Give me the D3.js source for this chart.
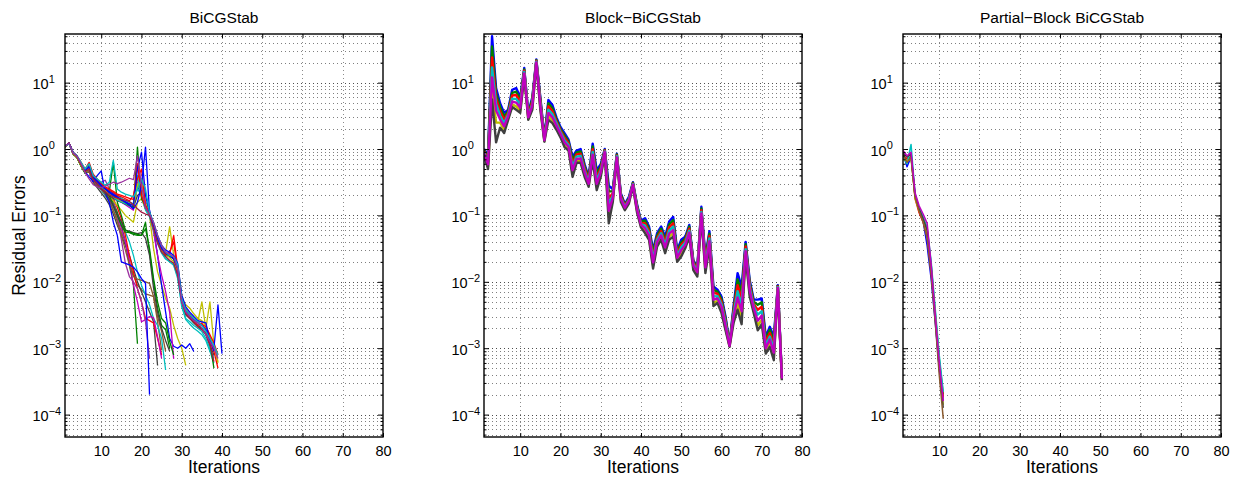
<!DOCTYPE html>
<html><head><meta charset="utf-8">
<script src="https://cdn.jsdelivr.net/npm/d3@7"></script>
<style>
body{margin:0;background:#fff;}
svg{display:block;font-family:"Liberation Sans",Arial,Helvetica,sans-serif;}
</style></head><body>
<svg id="c" width="1234" height="477"></svg>
<script>
// ---------------- tick labels / categories ----------------
const ITER_TICKS = [10,20,30,40,50,60,70,80];
const DECADES = [1e-4,1e-3,1e-2,1e-1,1,10];
const TITLES = ["BiCGStab","Block\u2212BiCGStab","Partial\u2212Block BiCGStab"];
const X_LABEL = "Iterations";
const Y_LABEL = "Residual Errors";

// ---------------- BiCGStab (one residual history per right-hand side) ----------------
const bicg01 = [1.1,1.23,0.87,0.76,0.575,0.457,0.38,0.324,0.398,0.468,0.214,0.158,0.079,0.05,0.02,0.019,0.018,0.0166,0.0141,0.0112,0.0095,0.0002];
const bicg02 = [1.1,1.2,0.89,0.79,0.63,0.5,0.6,0.4,0.355,0.316,0.282,0.316,0.676,0.25,0.224,0.209,0.2,0.19,0.25,0.355,0.25,0.112,0.079,0.05,0.035,0.028,0.025,0.024,0.018,0.0056,0.0038,0.0032,0.0028,0.0025,0.0022,0.0018,0.0014,0.0011,0.0008];
const bicg03 = [1.07,1.23,0.85,0.74,0.55,0.43,0.56,0.355,0.316,0.28,0.25,0.224,0.63,0.158,0.1,0.06,0.056,0.054,0.052,0.05,0.063,0.0316,0.0112,0.005,0.0028,0.0024,0.00126,0.00079];
const bicg04 = [1.1,1.23,0.87,0.78,0.6,0.44,0.355,0.29,0.27,0.263,0.275,0.295,0.316,0.302,0.316,0.339,0.363,0.347,0.79,0.28,0.132,0.105,0.079,0.05,0.0355,0.028,0.026,0.024,0.0158,0.005,0.0035,0.003,0.0026,0.0024,0.002,0.0016,0.00126,0.001,0.0007];
const bicg05 = [1.1,1.2,0.89,0.79,0.63,0.5,0.63,0.417,0.355,0.302,0.263,0.24,0.219,0.2,0.191,0.178,0.166,0.2,0.355,0.5,0.141,0.107,0.071,0.045,0.0316,0.026,0.028,0.04,0.0141,0.0052,0.0035,0.0032,0.0025,0.0022,0.0024,0.0018,0.00126,0.00089,0.0005];
const bicg06 = [1.07,1.23,0.85,0.74,0.56,0.447,0.525,0.38,0.316,0.282,0.24,0.209,0.191,0.178,0.166,0.158,0.151,0.141,0.282,0.316,0.158,0.112,0.071,0.045,0.0316,0.028,0.068,0.025,0.0178,0.0063,0.004,0.0033,0.0028,0.0025,0.005,0.002,0.005,0.00112,0.00063];
const bicg07 = [1.1,1.23,0.87,0.76,0.59,0.468,0.5,0.355,0.302,0.251,0.224,0.2,0.182,0.166,0.158,0.148,0.141,0.132,0.2,0.224,0.126,0.1,0.063,0.04,0.03,0.025,0.024,0.0224,0.0126,0.005,0.00316,0.0028,0.0024,0.0021,0.0019,0.0016,0.00112,0.00079];
const bicg08 = [1.1,1.2,0.89,0.78,0.6,0.48,0.537,0.38,0.331,0.282,0.251,0.229,0.209,0.191,0.174,0.158,0.145,0.126,0.158,0.282,1.07,0.112,0.076,0.05,0.0355,0.03,0.028,0.025,0.019,0.0063,0.0042,0.0035,0.003,0.0026,0.0025,0.0024,0.00126,0.001,0.0045,0.00083];
const bicg09 = [1.07,1.23,0.85,0.76,0.575,0.457,0.6,0.363,0.316,0.275,0.251,0.219,0.2,0.186,0.17,0.158,0.141,0.132,1.07,0.178,0.141,0.112,0.071,0.042,0.0316,0.026,0.025,0.0224,0.0158,0.0056,0.0035,0.003,0.0025,0.0022,0.002,0.00166,0.0012,0.0005];
const bicg10 = [1.1,1.23,0.87,0.78,0.59,0.468,0.55,0.37,0.324,0.288,0.251,0.24,0.219,0.2,0.182,0.166,0.158,0.151,0.251,0.2,0.126,0.1,0.063,0.04,0.028,0.0224,0.02,0.0178,0.0112,0.0045,0.0028,0.0025,0.0022,0.002,0.00178,0.0014,0.001,0.0007];
const bicg11 = [1.1,1.23,0.87,0.76,0.575,0.457,0.5,0.355,0.302,0.251,0.229,0.204,0.191,0.182,0.174,0.17,0.162,0.145,0.126,0.112,0.105,0.1,0.063,0.038,0.028,0.024,0.021,0.019,0.0126,0.005,0.0033,0.0028,0.0025,0.0021,0.0019,0.0016,0.00112,0.00063];
const bicg12 = [1.1,1.23,0.87,0.76,0.575,0.457,0.479,0.331,0.282,0.24,0.2,0.162,0.12,0.089,0.056,0.04,0.02,0.0126,0.0089,0.0076,0.0066,0.0063,0.006,0.0025,0.00093];
const bicg13 = [1.1,1.23,0.87,0.76,0.575,0.447,0.447,0.355,0.316,0.316,0.339,0.251,0.17,0.095,0.043,0.019,0.012,0.01,0.0079,0.005,0.0025,0.0007];
const bicg14 = [1.07,1.23,0.85,0.74,0.55,0.437,0.5,0.347,0.302,0.263,0.229,0.2,0.158,0.112,0.071,0.04,0.0178,0.0089,0.00117];
const bicg15 = [1.1,1.2,0.89,0.78,0.6,0.48,0.525,0.38,0.316,0.269,0.234,0.209,0.178,0.132,0.089,0.05,0.025,0.0141,0.0079,0.005,0.0028,0.0026,0.0024,0.0014,0.00079];
const bicg16 = [1.07,1.23,0.85,0.76,0.56,0.447,0.5,0.355,0.302,0.251,0.219,0.191,0.166,0.141,0.12,0.1,0.089,0.079,0.158,0.178,0.126,0.1,0.0316,0.0141,0.0089,0.0056,0.004,0.0022,0.0014,0.001,0.00055];
const bicg17 = [1.1,1.23,0.87,0.76,0.59,0.468,0.525,0.355,0.302,0.263,0.24,0.219,0.2,0.182,0.166,0.151,0.141,0.126,0.282,0.2,0.158,0.12,0.063,0.025,0.0089,0.0035,0.0014,0.00107,0.001,0.00112,0.001,0.00117,0.00089];
const bicg18 = [1.1,1.23,0.87,0.78,0.59,0.468,0.5,0.347,0.288,0.24,0.2,0.166,0.132,0.1,0.076,0.056,0.04,0.025,0.0141,0.0089,0.0063,0.0045,0.0028,0.0022,0.0014,0.00047];
const bicg19 = [1.07,1.23,0.85,0.74,0.56,0.437,0.457,0.316,0.263,0.219,0.182,0.145,0.105,0.071,0.05,0.0355,0.025,0.0158,0.01,0.0071,0.005,0.0035,0.0025,0.00055];
const bicg20 = [1.1,1.2,0.89,0.78,0.6,0.468,0.5,0.347,0.295,0.263,0.234,0.209,0.191,0.174,0.158,0.145,0.132,0.12,0.316,0.224,0.141,0.105,0.056,0.025,0.0126,0.0071,0.0035,0.00069];
const bicg21 = [1.1,1.23,0.87,0.76,0.575,0.457,0.525,0.363,0.316,0.275,0.24,0.2,0.141,0.1,0.071,0.056,0.055,0.052,0.05,0.05,0.079,0.028,0.01,0.004,0.0022,0.0019,0.001];
const bicg22 = [1.1,1.2,0.89,0.78,0.6,0.48,0.5,0.36,0.3,0.26,0.22,0.18,0.14,0.105,0.08,0.06,0.058,0.055,0.053,0.055,0.045,0.025,0.008,0.0035,0.002,0.0013,0.0009];
const bicg23 = [1.07,1.23,0.85,0.74,0.56,0.44,0.45,0.33,0.28,0.25,0.21,0.17,0.12,0.08,0.05,0.03,0.018,0.012,0.011,0.0105,0.01,0.0095,0.006,0.003,0.0018,0.0009];
const bicg24 = [1.1,1.23,0.87,0.78,0.6,0.47,0.58,0.4,0.34,0.3,0.27,0.25,0.23,0.21,0.2,0.19,0.18,0.175,0.6,0.2,0.13,0.105,0.075,0.048,0.033,0.027,0.026,0.05,0.016,0.006,0.0038,0.0032,0.0027,0.0025,0.0023,0.0021,0.0016,0.0012,0.0008];
const bicg25 = [1.07,1.2,0.87,0.76,0.58,0.46,0.52,0.37,0.32,0.28,0.25,0.22,0.2,0.18,0.17,0.16,0.15,0.14,0.3,0.22,0.13,0.1,0.065,0.042,0.03,0.026,0.023,0.02,0.014,0.0055,0.0045,0.004,0.0033,0.0028,0.0026,0.0022,0.0015,0.0011,0.0006];
const bicg26 = [1.1,1.23,0.87,0.77,0.59,0.46,0.53,0.36,0.31,0.27,0.24,0.21,0.19,0.17,0.16,0.15,0.14,0.13,0.4,0.19,0.12,0.095,0.06,0.038,0.027,0.022,0.02,0.018,0.012,0.0042,0.0027,0.0023,0.002,0.0018,0.0016,0.0013,0.0009,0.0006];
const bicg27 = [1.1,1.23,0.88,0.77,0.6,0.47,0.54,0.37,0.32,0.28,0.25,0.22,0.2,0.185,0.17,0.16,0.15,0.14,0.5,0.9,0.2,0.11,0.07,0.045,0.032,0.027,0.025,0.022,0.016,0.0055,0.0037,0.0031,0.0027,0.0024,0.0022,0.0019,0.0014,0.0009];
const bicg28 = [1.1,1.2,0.89,0.78,0.6,0.47,0.5,0.35,0.3,0.25,0.21,0.18,0.14,0.1,0.065,0.04,0.02,0.009,0.005,0.0025,0.0027,0.003,0.0029,0.0015,0.0007];

// ---------------- Block-BiCGStab ----------------
const block1 = [1.0,0.81,50,8.3,4.9,3.5,3.9,7.8,8.3,6.0,16.6,3.5,6.0,22.4,6.0,1.48,5.5,4.6,3.0,2.15,1.74,1.38,0.76,0.95,1.0,0.59,0.38,1.2,0.48,0.59,1.0,0.28,0.25,0.85,0.214,0.148,0.19,0.316,0.148,0.083,0.091,0.068,0.030,0.054,0.068,0.048,0.081,0.095,0.030,0.043,0.048,0.072,0.021,0.017,0.135,0.024,0.058,0.0085,0.0076,0.006,0.003,0.00117,0.0043,0.0135,0.0085,0.040,0.0107,0.0054,0.0054,0.0056,0.00148,0.0021,0.00148,0.0089,0.00037];
const block2 = [0.97,0.75,35,6.9,4.3,3.1,3.7,7.0,7.3,5.5,15.8,3.3,5.6,21.8,5.6,1.45,4.9,4.1,2.8,2.0,1.6,1.3,0.68,0.89,0.92,0.55,0.36,1.09,0.43,0.55,0.97,0.23,0.23,0.83,0.205,0.144,0.18,0.31,0.142,0.08,0.084,0.063,0.027,0.05,0.063,0.043,0.073,0.085,0.028,0.039,0.045,0.068,0.0205,0.016,0.127,0.022,0.053,0.0076,0.0071,0.0055,0.0028,0.00115,0.0039,0.0109,0.0069,0.037,0.0098,0.005,0.0045,0.0049,0.00135,0.0019,0.0013,0.0087,0.000365];
const block3 = [0.93,0.69,24,5.8,3.7,2.75,3.5,6.4,6.5,5.0,15.1,3.2,5.2,21.3,5.2,1.41,4.4,3.7,2.6,1.9,1.48,1.22,0.60,0.83,0.85,0.51,0.34,0.99,0.38,0.51,0.95,0.18,0.215,0.80,0.195,0.14,0.175,0.30,0.136,0.077,0.076,0.058,0.024,0.046,0.058,0.040,0.066,0.076,0.026,0.036,0.042,0.063,0.0195,0.0155,0.12,0.020,0.049,0.0068,0.0066,0.005,0.0026,0.00113,0.0036,0.0089,0.0055,0.034,0.009,0.0046,0.0038,0.0042,0.00122,0.0017,0.00113,0.0085,0.00036];
const block4 = [0.90,0.64,17,4.8,3.2,2.45,3.3,5.75,5.7,4.6,14.5,3.1,4.8,20.7,4.8,1.38,3.9,3.35,2.45,1.8,1.36,1.15,0.54,0.77,0.79,0.47,0.32,0.90,0.34,0.47,0.92,0.146,0.20,0.78,0.185,0.135,0.17,0.295,0.13,0.074,0.07,0.054,0.022,0.043,0.054,0.036,0.059,0.068,0.0245,0.033,0.039,0.059,0.0185,0.0148,0.113,0.018,0.045,0.006,0.0061,0.0046,0.0024,0.0011,0.0033,0.0072,0.0045,0.031,0.0082,0.0043,0.0032,0.0036,0.0011,0.0015,0.00099,0.0083,0.000355];
const block5 = [0.87,0.59,12,3.8,2.8,2.2,3.1,5.2,5.0,4.2,13.8,3.0,4.5,20.2,4.5,1.35,3.5,3.0,2.25,1.7,1.26,1.08,0.48,0.71,0.72,0.44,0.30,0.82,0.30,0.44,0.90,0.117,0.185,0.75,0.178,0.131,0.165,0.29,0.124,0.072,0.064,0.05,0.0196,0.04,0.05,0.033,0.053,0.06,0.023,0.030,0.036,0.055,0.0175,0.014,0.107,0.0166,0.041,0.0054,0.0056,0.0042,0.0022,0.00109,0.003,0.0058,0.0036,0.029,0.0074,0.004,0.0026,0.0031,0.001,0.00135,0.00086,0.0081,0.00035];
const block6 = [0.84,0.54,8.1,2.5,2.5,1.95,2.9,4.7,4.4,3.8,13.2,2.85,4.2,19.6,4.2,1.32,3.1,2.7,2.1,1.6,1.16,1.02,0.43,0.66,0.67,0.41,0.285,0.74,0.27,0.41,0.87,0.094,0.17,0.73,0.17,0.124,0.158,0.282,0.118,0.069,0.059,0.046,0.0177,0.037,0.046,0.030,0.048,0.054,0.021,0.027,0.034,0.051,0.0165,0.013,0.101,0.015,0.037,0.0048,0.0052,0.0037,0.002,0.00107,0.0027,0.0047,0.0029,0.026,0.0067,0.0037,0.0022,0.0027,0.00091,0.0012,0.00076,0.0078,0.000338];
const block7 = [0.81,0.50,5.6,1.26,2.1,1.74,2.75,4.3,3.9,3.5,12.6,2.75,3.9,19.1,3.9,1.29,2.75,2.45,1.95,1.5,1.07,0.95,0.38,0.62,0.62,0.38,0.27,0.68,0.24,0.38,0.85,0.076,0.16,0.71,0.16,0.12,0.151,0.275,0.112,0.066,0.054,0.043,0.0158,0.034,0.043,0.027,0.043,0.048,0.020,0.024,0.032,0.048,0.015,0.012,0.095,0.0135,0.034,0.0043,0.0048,0.0034,0.00186,0.00105,0.0024,0.0038,0.0023,0.024,0.006,0.0034,0.00186,0.0023,0.00083,0.00105,0.00066,0.0076,0.00033];

// ---------------- Partial-Block BiCGStab ----------------
const partial1 = [0.89,0.54,0.76,0.19,0.12,0.083,0.035,0.011,0.0025,0.0005,0.00016];
const partial2 = [0.83,0.63,0.79,0.20,0.126,0.089,0.063,0.018,0.0035,0.0007,0.0002];
const partial3 = [0.79,0.71,0.89,0.18,0.11,0.079,0.05,0.014,0.0032,0.00063,0.00018];
const partial4 = [0.76,0.60,1.17,0.21,0.13,0.095,0.066,0.02,0.004,0.00079,0.00022];
const partial5 = [0.71,0.66,0.71,0.18,0.117,0.085,0.056,0.016,0.0032,0.00056,0.00014];
const partial6 = [0.89,0.76,0.83,0.20,0.126,0.089,0.06,0.016,0.0028,0.0005,0.000126];
const partial7 = [0.83,0.63,0.76,0.19,0.117,0.079,0.045,0.0126,0.0025,0.0004,0.000087];
const partial8 = [0.95,0.79,0.89,0.22,0.14,0.105,0.076,0.018,0.0032,0.00063,0.00016];

// ---------------- styling ----------------
const C = {b:"#0000ff", g:"#008000", r:"#ff0000", c:"#00bfbf", m:"#bf00bf", y:"#bfbf00", k:"#404040", maroon:"#a3173f", brown:"#8a5a2e", purple:"#9b2fa0"};

const panels = [
  {title:TITLES[0], lw:1.3, series:[
    [bicg12,C.brown],[bicg19,C.k],[bicg14,C.g],[bicg18,C.c],[bicg15,C.r],[bicg28,C.m],[bicg13,C.purple],[bicg23,C.brown],[bicg01,C.b],
    [bicg16,C.y],[bicg17,C.b],[bicg20,C.m],[bicg21,C.g],[bicg22,C.k],[bicg03,C.g],
    [bicg07,C.k],[bicg10,C.c],[bicg25,C.y],[bicg26,C.c],[bicg09,C.g],[bicg06,C.y],[bicg24,C.r],[bicg05,C.r],
    [bicg27,C.b],[bicg08,C.b],[bicg11,C.maroon],[bicg02,C.c],[bicg04,C.purple]]},
  {title:TITLES[1], lw:2.4, series:[
    [block1,C.b],[block2,C.g],[block3,C.r],[block4,C.c],[block6,C.y],[block7,C.k],[block5,C.m]]},
  {title:TITLES[2], lw:1.5, series:[
    [partial1,C.b],[partial2,C.g],[partial3,C.r],[partial4,C.c],[partial5,C.y],[partial6,C.k],[partial7,C.brown],[partial8,C.m]]}
];

const svg = d3.select("#c");
const LEFTS = [65,484,903];
const PW = 318, TOP = 34, BOT = 437;
const yDomain = [4.6e-5, 54];
const xDomain = [1, 80];

const minorVals = [];
for (let e = -5; e <= 1; e++) for (let k = 2; k <= 9; k++) {
  const v = k * Math.pow(10, e);
  if (v > yDomain[0] && v < yDomain[1]) minorVals.push(v);
}
const expLabel = d => { const e = Math.round(Math.log10(d)); return e < 0 ? "\u2212" + (-e) : String(e); };

panels.forEach((p, pi) => {
  const L = LEFTS[pi], R = L + PW;
  const x = d3.scaleLinear(xDomain, [L, R]);
  const y = d3.scaleLog(yDomain, [BOT, TOP]);
  const g = svg.append("g");

  // grid
  const grid = g.append("g").attr("fill","none").attr("stroke","#000").attr("stroke-width",1).attr("stroke-dasharray","1,3");
  grid.selectAll(".vg").data(ITER_TICKS.filter(v => v < xDomain[1])).join("line")
    .attr("x1", d => Math.round(x(d)) + 0.5).attr("x2", d => Math.round(x(d)) + 0.5)
    .attr("y1", TOP).attr("y2", BOT).attr("stroke-opacity", 0.45);
  grid.selectAll(".mg").data(minorVals).join("line")
    .attr("y1", d => Math.round(y(d)) + 0.5).attr("y2", d => Math.round(y(d)) + 0.5)
    .attr("x1", L).attr("x2", R).attr("stroke-opacity", 0.5);
  grid.selectAll(".dg").data(DECADES).join("line")
    .attr("y1", d => Math.round(y(d)) + 0.5).attr("y2", d => Math.round(y(d)) + 0.5)
    .attr("x1", L).attr("x2", R).attr("stroke-opacity", 0.7);

  // data
  const clipId = "clip" + pi;
  svg.append("clipPath").attr("id", clipId).append("rect")
    .attr("x", L).attr("y", TOP).attr("width", PW).attr("height", BOT - TOP);
  const line = d3.line().x((d, i) => x(i + 1)).y(d => y(d));
  g.append("g").attr("clip-path", `url(#${clipId})`)
    .selectAll("path").data(p.series).join("path")
    .attr("d", d => line(d[0])).attr("fill","none").attr("stroke", d => d[1])
    .attr("stroke-width", p.lw).attr("stroke-linejoin","round");

  // axes
  const styleAxis = sel => { sel.attr("font-family", null).attr("font-size", 14.5).attr("color", "#000"); sel.select(".domain").remove(); sel.selectAll(".tick line").attr("stroke-width", 1); };
  g.append("g").attr("transform", `translate(0,${BOT})`)
    .call(d3.axisBottom(x).tickValues(ITER_TICKS).tickSizeInner(-4).tickSizeOuter(0).tickPadding(9))
    .call(styleAxis);
  g.append("g").attr("transform", `translate(0,${TOP})`)
    .call(d3.axisTop(x).tickValues(ITER_TICKS).tickSizeInner(-4).tickSizeOuter(0).tickFormat(""))
    .call(styleAxis);
  const yl = g.append("g").attr("transform", `translate(${L},0)`)
    .call(d3.axisLeft(y).tickValues(DECADES).tickSizeInner(-5).tickSizeOuter(0).tickFormat(() => ""))
    .call(styleAxis);
  yl.selectAll(".tick text").each(function(d) {
    const t = d3.select(this);
    t.attr("x", -32.5).attr("y", 6).attr("dy", null).attr("text-anchor", "start").attr("fill", "#000");
    t.append("tspan").text("10");
    t.append("tspan").attr("dy", -6.5).attr("font-size", 11).text(expLabel(d));
  });
  g.append("g").attr("transform", `translate(${L},0)`)
    .call(d3.axisLeft(y).tickValues(minorVals).tickSizeInner(-2.5).tickSizeOuter(0).tickFormat(""))
    .call(styleAxis);
  g.append("g").attr("transform", `translate(${R},0)`)
    .call(d3.axisRight(y).tickValues(DECADES).tickSizeInner(-5).tickSizeOuter(0).tickFormat(""))
    .call(styleAxis);
  g.append("g").attr("transform", `translate(${R},0)`)
    .call(d3.axisRight(y).tickValues(minorVals).tickSizeInner(-2.5).tickSizeOuter(0).tickFormat(""))
    .call(styleAxis);

  // box
  g.append("rect").attr("x", L).attr("y", TOP).attr("width", PW).attr("height", BOT - TOP)
    .attr("fill","none").attr("stroke","#000").attr("stroke-width",1.4);

  // texts
  g.append("text").attr("x", (L + R) / 2).attr("y", 22.5).attr("text-anchor","middle")
    .attr("font-size", 15.5).attr("fill","#000").text(p.title);
  g.append("text").attr("x", (L + R) / 2).attr("y", 473).attr("text-anchor","middle")
    .attr("font-size", 17.5).attr("fill","#000").text(X_LABEL);
  if (pi === 0) {
    g.append("text").attr("transform", `translate(25,${(TOP + BOT) / 2}) rotate(-90)`)
      .attr("text-anchor","middle").attr("font-size", 17.5).attr("fill","#000").text(Y_LABEL);
  }
});
</script>
</body></html>
